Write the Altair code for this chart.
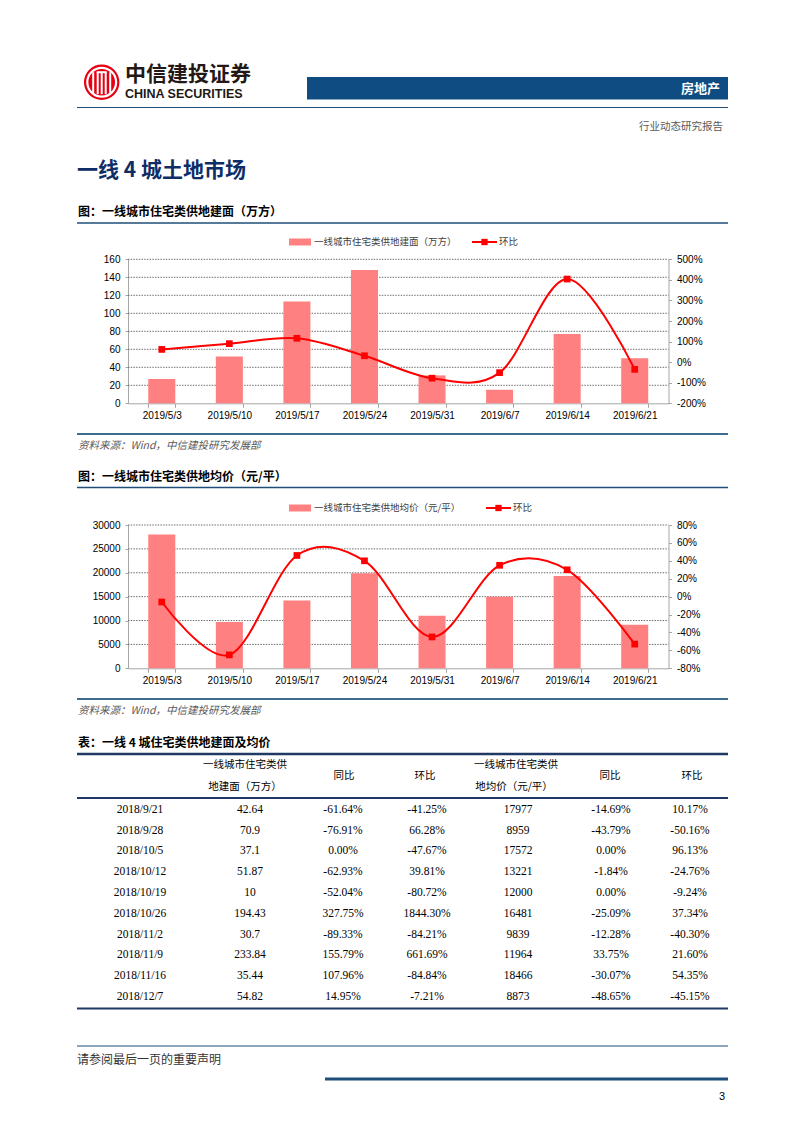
import altair as alt
import pandas as pd

W, H = 802, 1133
CJK = "Noto Sans CJK SC"
SANS = "Liberation Sans"
SERIF = "Liberation Serif"
NAVY = "#1F3864"
BLUE = "#0F4C81"
BAR = "#FF8080"
RED = "#FF0000"

# ---------------- data ----------------
dates = ["2019/5/3", "2019/5/10", "2019/5/17", "2019/5/24",
         "2019/5/31", "2019/6/7", "2019/6/14", "2019/6/21"]
area = [27, 52, 113, 148, 31, 15, 77, 50]
area_hb = [0.62, 0.90, 1.16, 0.31, -0.78, -0.51, 4.04, -0.35]
price = [28000, 9700, 14200, 19900, 11000, 15000, 19300, 9100]
price_hb = [-0.06, -0.65, 0.46, 0.40, -0.45, 0.35, 0.30, -0.53]

area_ticks = [0, 20, 40, 60, 80, 100, 120, 140, 160]
area_hb_ticks = [-2, -1, 0, 1, 2, 3, 4, 5]
price_ticks = [0, 5000, 10000, 15000, 20000, 25000, 30000]
price_hb_ticks = [-0.8, -0.6, -0.4, -0.2, 0, 0.2, 0.4, 0.6, 0.8]

t_dates = ["2018/9/21", "2018/9/28", "2018/10/5", "2018/10/12", "2018/10/19",
           "2018/10/26", "2018/11/2", "2018/11/9", "2018/11/16", "2018/12/7"]
t_area = ["42.64", "70.9", "37.1", "51.87", "10", "194.43", "30.7", "233.84", "35.44", "54.82"]
t_area_yoy = ["-61.64%", "-76.91%", "0.00%", "-62.93%", "-52.04%", "327.75%",
              "-89.33%", "155.79%", "107.96%", "14.95%"]
t_area_hb = ["-41.25%", "66.28%", "-47.67%", "39.81%", "-80.72%", "1844.30%",
             "-84.21%", "661.69%", "-84.84%", "-7.21%"]
t_price = ["17977", "8959", "17572", "13221", "12000", "16481", "9839", "11964", "18466", "8873"]
t_price_yoy = ["-14.69%", "-43.79%", "0.00%", "-1.84%", "0.00%", "-25.09%",
               "-12.28%", "33.75%", "-30.07%", "-48.65%"]
t_price_hb = ["10.17%", "-50.16%", "96.13%", "-24.76%", "-9.24%", "37.34%",
              "-40.30%", "21.60%", "54.35%", "-45.15%"]

ONE = pd.DataFrame({"k": [0]})
layers = []


def text(s, x, y, size=11, color="#000000", weight="normal", align="left",
         font=CJK, style="normal"):
    return alt.Chart(pd.DataFrame({"t": [s]})).mark_text(
        fontSize=size, color=color, fontWeight=weight, align=align,
        font=font, fontStyle=style, baseline="middle"
    ).encode(x=alt.value(x), y=alt.value(y), text="t:N")


def hline(x1, x2, y, color, w, dash=None):
    kw = dict(color=color, strokeWidth=w)
    if dash:
        kw["strokeDash"] = dash
    return alt.Chart(ONE).mark_rule(**kw).encode(
        x=alt.value(x1), x2=alt.value(x2), y=alt.value(y))


def vline(x, y1, y2, color, w):
    return alt.Chart(ONE).mark_rule(color=color, strokeWidth=w).encode(
        x=alt.value(x), y=alt.value(y1), y2=alt.value(y2))


def rect(x1, x2, y1, y2, color):
    return alt.Chart(ONE).mark_rect(color=color).encode(
        x=alt.value(x1), x2=alt.value(x2), y=alt.value(y1), y2=alt.value(y2))


# ---------------- header ----------------
LX, LY = 101.7, 82.2
layers.append(alt.Chart(ONE).mark_circle(size=1257, color="#E60012", opacity=1)
              .encode(x=alt.value(LX), y=alt.value(LY)))
layers.append(alt.Chart(ONE).mark_point(shape="circle", size=830, filled=False,
                                        color="white", strokeWidth=2.2, opacity=1)
              .encode(x=alt.value(LX), y=alt.value(LY)))
for dx in (-8.5, -4, 4, 8.5):
    layers.append(vline(LX + dx, LY - 10, LY + 12, "white", 2))
layers.append(hline(LX - 5, LX + 5, LY - 10, "white", 2))
layers.append(vline(LX, LY - 10, LY + 12, "white", 2))

layers.append(text("中信建投证券", 125, 75, size=21, weight="bold", color="#231815"))
layers.append(text("CHINA SECURITIES", 125, 94, size=12.5, weight="bold",
                   color="#231815", font=SANS))
layers.append(rect(307, 728, 77, 99.5, BLUE))
layers.append(text("房地产", 720, 88.5, size=13, weight="bold", color="white", align="right"))
layers.append(hline(77, 728, 107.5, "#1F4E79", 1.2))
layers.append(text("行业动态研究报告", 723, 127, size=10.5, color="#595959", align="right"))

layers.append(text("一线 4 城土地市场", 77, 171, size=21, weight="bold", color="#0E2D66"))

# ---------------- combo chart builder ----------------
PX0, PX1 = 128.0, 668.5
STEP = (PX1 - PX0) / len(dates)


def combo(vals, hb, top, bottom, vmax, vticks, hmin, hmax, hticks, lfmt):
    df = pd.DataFrame({"date": dates, "v": vals, "hb": hb})
    band = alt.Scale(domain=dates, range=[PX0, PX1], paddingInner=0.6, paddingOuter=0.3)
    pt = alt.Scale(type="point", domain=dates, range=[PX0 + STEP / 2, PX1 - STEP / 2], padding=0)
    ysc = alt.Scale(domain=[0, vmax], range=[bottom, top], nice=False, zero=False)
    hsc = alt.Scale(domain=[hmin, hmax], range=[bottom, top], nice=False, zero=False)

    grid = alt.Chart(pd.DataFrame({"g": vticks[1:]})).mark_rule(
        color="#6F6F6F", strokeWidth=1, strokeDash=[1.5, 1.2]
    ).encode(y=alt.Y("g:Q", scale=ysc, axis=None), x=alt.value(PX0), x2=alt.value(PX1))

    bars = alt.Chart(df).mark_bar(color=BAR).encode(
        x=alt.X("date:N", sort=dates, scale=band, title=None,
                axis=alt.Axis(orient="bottom", offset=bottom - H, labelAngle=0,
                              labelFont=SANS, labelFontSize=10, labelColor="#000000",
                              domainColor="#A6A6A6", tickColor="#A6A6A6", tickSize=4,
                              tickBand="extent", labelPadding=3, grid=False)),
        y=alt.Y("v:Q", scale=ysc, title=None,
                axis=alt.Axis(orient="left", offset=-PX0, values=vticks, format=lfmt,
                              labelFont=SANS, labelFontSize=10, labelColor="#000000",
                              domainColor="#A6A6A6", tickColor="#A6A6A6", tickSize=3,
                              labelPadding=5, grid=False)),
    )
    line = alt.Chart(df).mark_line(color=RED, strokeWidth=2, interpolate="cardinal").encode(
        x=alt.X("date:N", sort=dates, scale=pt, axis=None),
        y=alt.Y("hb:Q", scale=hsc, title=None,
                axis=alt.Axis(orient="right", offset=PX1 - W, values=hticks,
                              labelExpr="round(datum.value*100) + '%'",
                              labelFont=SANS, labelFontSize=10, labelColor="#000000",
                              domainColor="#A6A6A6", tickColor="#A6A6A6", tickSize=3,
                              labelPadding=5, grid=False)),
    )
    pts = alt.Chart(df).mark_square(color=RED, size=45, opacity=1).encode(
        x=alt.X("date:N", sort=dates, scale=pt, axis=None),
        y=alt.Y("hb:Q", scale=hsc, axis=None),
    )
    return [grid, bars, line, pts]


def legend(y, label, lx):
    return [
        rect(289, 311, y - 3.5, y + 3.5, BAR),
        text(label, 314, y, size=9.5, color="#404040"),
        hline(lx, lx + 25, y, RED, 2),
        alt.Chart(ONE).mark_square(color=RED, size=40, opacity=1).encode(
            x=alt.value(lx + 12.5), y=alt.value(y)),
        text("环比", lx + 27, y, size=9.5, color="#404040"),
    ]


SRC = "资料来源：Wind，中信建投研究发展部"

# ---------------- chart 1 ----------------
layers.append(text("图：一线城市住宅类供地建面（万方）", 78, 212, size=12, weight="bold"))
layers.append(hline(77, 728, 223, "#1F4E79", 1.5))
layers += legend(242, "一线城市住宅类供地建面（万方）", 472)
layers += combo(area, area_hb, 259.3, 403.3, 160, area_ticks, -2, 5, area_hb_ticks, "d")
layers.append(hline(77, 728, 434, "#3D6C8E", 2))
layers.append(text(SRC, 78, 446, size=10.5, color="#595959", style="italic"))

# ---------------- chart 2 ----------------
layers.append(text("图：一线城市住宅类供地均价（元/平）", 78, 477, size=12, weight="bold"))
layers.append(hline(77, 728, 487.5, "#1F4E79", 1.5))
layers += legend(508, "一线城市住宅类供地均价（元/平）", 486)
layers += combo(price, price_hb, 525, 668.3, 30000, price_ticks, -0.8, 0.8, price_hb_ticks, "d")
layers.append(hline(77, 728, 699, "#3D6C8E", 2))
layers.append(text(SRC, 78, 711, size=10.5, color="#595959", style="italic"))

# ---------------- table ----------------
layers.append(text("表：一线 4 城住宅类供地建面及均价", 78, 743, size=12, weight="bold"))
layers.append(hline(77, 728, 754, NAVY, 2.5))
layers.append(text("一线城市住宅类供", 245, 765, size=10.5, align="center"))
layers.append(text("地建面（万方）", 245, 787, size=10.5, align="center"))
layers.append(text("同比", 344, 776, size=10.5, align="center"))
layers.append(text("环比", 425, 776, size=10.5, align="center"))
layers.append(text("一线城市住宅类供", 516, 765, size=10.5, align="center"))
layers.append(text("地均价（元/平）", 514, 787, size=10.5, align="center"))
layers.append(text("同比", 610, 776, size=10.5, align="center"))
layers.append(text("环比", 692, 776, size=10.5, align="center"))
layers.append(hline(77, 728, 798, NAVY, 2))

rowsc = alt.Scale(type="point", domain=t_dates, range=[809.8, 997], padding=0)
for col, cx in [(t_dates, 140), (t_area, 250), (t_area_yoy, 343), (t_area_hb, 427),
                (t_price, 518), (t_price_yoy, 611), (t_price_hb, 690)]:
    df = pd.DataFrame({"row": t_dates, "v": col})
    layers.append(alt.Chart(df).mark_text(font=SERIF, fontSize=11.5, color="#000000",
                                          align="center", baseline="middle").encode(
        x=alt.value(cx),
        y=alt.Y("row:N", sort=t_dates, scale=rowsc, axis=None),
        text="v:N"))
layers.append(hline(77, 728, 1008.5, NAVY, 2))

# ---------------- footer ----------------
layers.append(hline(77, 728, 1046, "#1F4E79", 1.2))
layers.append(text("请参阅最后一页的重要声明", 77, 1060, size=12, color="#333333"))
layers.append(hline(325, 728, 1079, "#1F4E79", 3))
layers.append(text("3", 725, 1097, size=11, color="#000000", align="right", font=SANS))

chart = alt.layer(*layers).resolve_scale(x="independent", y="independent").properties(
    width=W, height=H, padding=0, background="white",
    autosize=alt.AutoSizeParams(type="none"),
).configure_view(stroke=None)

chart.save("out.html", embed_options={"renderer": "svg", "actions": False})
